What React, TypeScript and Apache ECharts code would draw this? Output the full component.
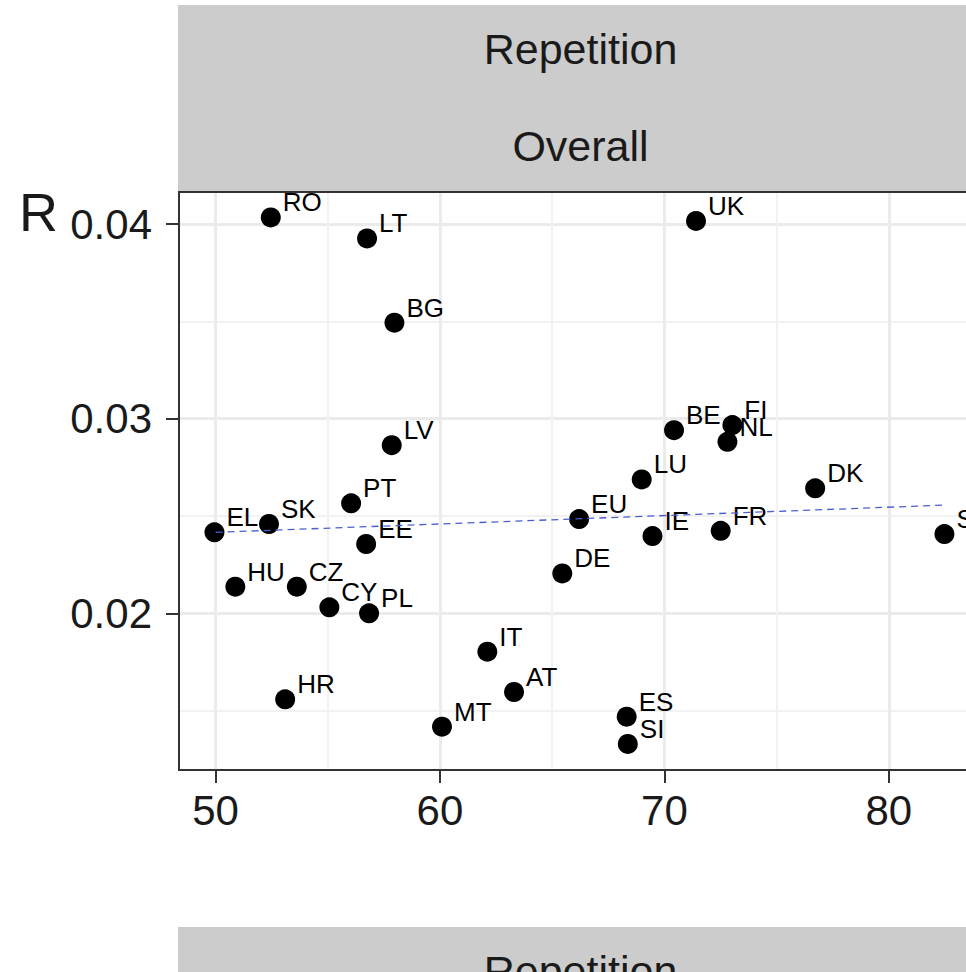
import React, { useEffect, useRef } from "react";
import * as echarts from "echarts";

const countries = ["RO", "LT", "BG", "UK", "BE", "FI", "NL", "LV", "LU", "DK", "PT", "EL", "SK", "EU", "EE", "IE", "FR", "SE", "DE", "HU", "CZ", "CY", "PL", "IT", "HR", "AT", "MT", "ES", "SI"];
const xValues = [52.46, 56.75, 57.97, 71.41, 70.43, 73.03, 72.81, 57.85, 68.99, 76.72, 56.04, 49.95, 52.38, 66.2, 56.71, 69.47, 72.51, 82.48, 65.45, 50.88, 53.62, 55.07, 56.84, 62.11, 53.1, 63.3, 60.09, 68.32, 68.37];
const rValues = [0.04034, 0.03926, 0.03493, 0.04016, 0.02941, 0.02967, 0.02881, 0.02864, 0.02688, 0.02642, 0.02565, 0.02416, 0.02459, 0.02484, 0.02356, 0.02397, 0.02424, 0.02407, 0.02205, 0.02137, 0.02137, 0.02031, 0.02, 0.01803, 0.01558, 0.01596, 0.01418, 0.01469, 0.01329];
const trendX = [50, 82.48];
const trendY = [0.02416, 0.02556];
const xTicks = [50, 60, 70, 80];
const yTicks = [0.02, 0.03, 0.04];
const stripTop = ["Repetition", "Overall"];
const stripBottom = ["Repetition"];
const yTitle = "R";

const FONT = "'Liberation Sans', Arial, Helvetica, sans-serif";

export default function App() {
  const ref = useRef<HTMLDivElement>(null);
  useEffect(() => {
    if (!ref.current) return;
    const chart = echarts.init(ref.current, undefined, { renderer: "svg" });
    const gl = 179, gt = 192, gw = 803, gh = 578;
    const cx = gl + gw / 2;
    const option: any = {
      animation: false,
      backgroundColor: "#ffffff",
      grid: {
        left: gl,
        top: gt,
        width: gw,
        height: gh,
        show: true,
        backgroundColor: "#ffffff",
        borderWidth: 0,
        containLabel: false,
        outerBoundsMode: "none",
      },
      xAxis: {
        type: "value",
        min: 48.37,
        max: 48.37 + gw / 22.44,
        splitNumber: 4,
        axisLine: { show: false },
        axisTick: { show: true, length: 13, customValues: xTicks, lineStyle: { color: "#333333", width: 2 } },
        axisLabel: { customValues: xTicks, margin: 19, fontSize: 42, color: "#1a1a1a", fontFamily: FONT },
        splitLine: { show: true, lineStyle: { color: "#ebebeb", width: 3 } },
        minorTick: { show: false, splitNumber: 2 },
        minorSplitLine: { show: true, lineStyle: { color: "#f2f2f2", width: 2 } },
      },
      yAxis: {
        type: "value",
        min: 0.011952,
        max: 0.041644,
        splitNumber: 3,
        axisLine: { show: false },
        axisTick: { show: true, length: 13, customValues: yTicks, lineStyle: { color: "#333333", width: 2 } },
        axisLabel: { customValues: yTicks, margin: 27, fontSize: 42, color: "#1a1a1a", fontFamily: FONT },
        splitLine: { show: true, lineStyle: { color: "#ebebeb", width: 3 } },
        minorTick: { show: false, splitNumber: 2 },
        minorSplitLine: { show: true, lineStyle: { color: "#f2f2f2", width: 2 } },
      },
      series: [
        {
          type: "scatter",
          symbol: "circle",
          symbolSize: 20,
          itemStyle: { color: "#000000", opacity: 1 },
          data: countries.map((c, i) => ({ name: c, value: [xValues[i], rValues[i]] })),
          label: {
            show: true,
            formatter: "{b}",
            position: [22, -5],
            align: "left",
            verticalAlign: "middle",
            fontSize: 26,
            color: "#000000",
            opacity: 1,
            fontFamily: FONT,
          },
          z: 2,
        },
        {
          type: "line",
          data: trendX.map((x, i) => [x, trendY[i]]),
          symbol: "none",
          lineStyle: { color: "#4a5fd0", width: 1.3, type: [7, 5], opacity: 1 },
          z: 3,
        },
      ],
      graphic: [
        {
          type: "rect",
          shape: { x: gl, y: gt, width: gw, height: gh },
          style: { fill: "none", stroke: "#333333", lineWidth: 2 },
          z: 10,
          silent: true,
        },
        {
          type: "rect",
          shape: { x: gl - 1, y: 5, width: gw + 2, height: gt - 5 },
          style: { fill: "#cccccc" },
          z: 9,
        },
        {
          type: "text",
          x: cx,
          y: 49,
          style: { text: stripTop[0], fontSize: 43, fill: "#1a1a1a", fontFamily: FONT, align: "center", verticalAlign: "middle" },
          z: 11,
        },
        {
          type: "text",
          x: cx,
          y: 146,
          style: { text: stripTop[1], fontSize: 43, fill: "#1a1a1a", fontFamily: FONT, align: "center", verticalAlign: "middle" },
          z: 11,
        },
        {
          type: "rect",
          shape: { x: gl - 1, y: 927, width: gw + 2, height: 80 },
          style: { fill: "#cccccc" },
          z: 9,
        },
        {
          type: "text",
          x: cx,
          y: 971,
          style: { text: stripBottom[0], fontSize: 43, fill: "#1a1a1a", fontFamily: FONT, align: "center", verticalAlign: "middle" },
          z: 11,
        },
        {
          type: "text",
          x: 19,
          y: 212,
          style: { text: yTitle, fontSize: 54, fill: "#1a1a1a", fontFamily: FONT, align: "left", verticalAlign: "middle" },
          z: 11,
        },
      ],
    };
    chart.setOption(option);
    return () => chart.dispose();
  }, []);
  return (
    <div style={{ position: "absolute", left: 0, top: 0, width: 966, height: 972, overflow: "hidden", background: "#fff" }}>
      <div ref={ref} style={{ width: 1000, height: 972 }} />
    </div>
  );
}
